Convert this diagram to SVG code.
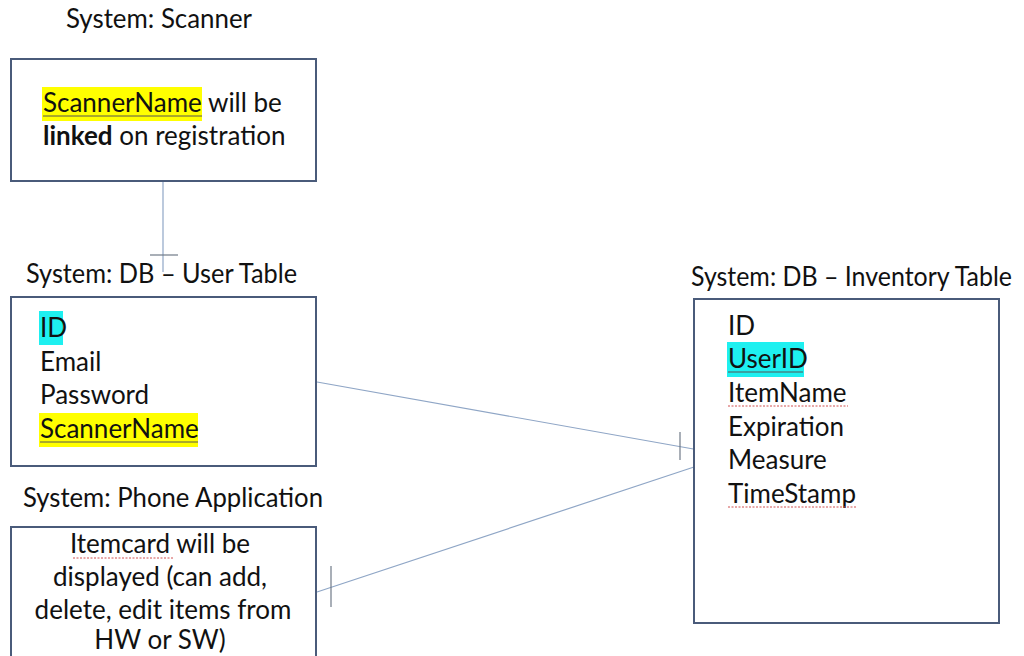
<svg xmlns="http://www.w3.org/2000/svg" width="1024" height="656" viewBox="0 0 1024 656">
  <style>
    .t { font-family: Lato, "Liberation Sans", sans-serif; font-size: 26px; fill: #111; }
    .b { font-weight: bold; }
    .box { fill: #fff; stroke: #4a5b7a; stroke-width: 2; }
    .link { stroke: #8fa6c6; stroke-width: 1.2; fill: none; }
    .tick { stroke: #707a88; stroke-width: 1.2; }
    .ul { stroke: #555; stroke-width: 1; }
    .sq { stroke: #d05050; stroke-width: 1; stroke-dasharray: 2 1.5; }
    .hy { fill: #ffff00; }
    .hc { fill: #1ef0f0; }
  </style>
  <rect width="1024" height="656" fill="#fff"/>

  <!-- connectors -->
  <g id="connectors">
    <line class="link" x1="163" y1="181" x2="163" y2="272"/>
    <line class="tick" x1="150" y1="255" x2="178" y2="255"/>
    <line class="link" x1="317" y1="382" x2="699" y2="450"/>
    <line class="tick" x1="680" y1="432" x2="680" y2="460"/>
    <line class="link" x1="317" y1="592" x2="694" y2="467"/>
    <line class="tick" x1="331" y1="566" x2="331" y2="607"/>
  </g>

  <!-- scanner -->
  <g id="scanner">
    <text class="t" x="66" y="28" textLength="186" lengthAdjust="spacingAndGlyphs">System: Scanner</text>
    <rect class="box" x="11" y="59" width="305" height="122"/>
    <rect class="hy" x="42" y="87" width="160" height="34"/>
    <text class="t" x="43" y="112">ScannerName will be</text>
    <line class="ul" x1="43" y1="116" x2="202" y2="116"/>
    <text class="t" x="43" y="145"><tspan class="b">linked</tspan> on registration</text>
  </g>

  <!-- user table -->
  <g id="user-table">
    <text class="t" x="26" y="283" textLength="271" lengthAdjust="spacingAndGlyphs">System: DB – User Table</text>
    <rect class="box" x="11" y="297" width="305" height="169"/>
    <rect class="hc" x="39" y="311" width="24" height="34"/>
    <text class="t" x="40" y="337">ID</text>
    <text class="t" x="40" y="371">Email</text>
    <text class="t" x="40" y="404">Password</text>
    <rect class="hy" x="39" y="413" width="159" height="34"/>
    <text class="t" x="40" y="438">ScannerName</text>
    <line class="ul" x1="40" y1="442" x2="198" y2="442"/>
  </g>

  <!-- phone application -->
  <g id="phone-app">
    <text class="t" x="23" y="507" textLength="300" lengthAdjust="spacingAndGlyphs">System: Phone Application</text>
    <rect class="box" x="11" y="527" width="305" height="140"/>
    <text class="t" x="160" y="553" text-anchor="middle">Itemcard will be</text>
    <line class="sq" x1="73" y1="558" x2="174" y2="558"/>
    <text class="t" x="160" y="586" text-anchor="middle">displayed (can add,</text>
    <text class="t" x="163" y="619" text-anchor="middle">delete, edit items from</text>
    <text class="t" x="160" y="649" text-anchor="middle">HW or SW)</text>
  </g>

  <!-- inventory table -->
  <g id="inventory-table">
    <text class="t" x="691" y="286" font-size="24" textLength="321" lengthAdjust="spacingAndGlyphs">System: DB – Inventory Table</text>
    <rect class="box" x="694" y="299" width="305" height="324"/>
    <text class="t" x="728" y="335">ID</text>
    <rect class="hc" x="727" y="342" width="77" height="35"/>
    <text class="t" x="728" y="368">UserID</text>
    <line class="ul" x1="728" y1="372" x2="803" y2="372"/>
    <text class="t" x="728" y="402">ItemName</text>
    <line class="sq" x1="728" y1="406" x2="848" y2="406"/>
    <text class="t" x="728" y="436">Expiration</text>
    <text class="t" x="728" y="469">Measure</text>
    <text class="t" x="728" y="503">TimeStamp</text>
    <line class="sq" x1="728" y1="507" x2="857" y2="507"/>
  </g>
</svg>
